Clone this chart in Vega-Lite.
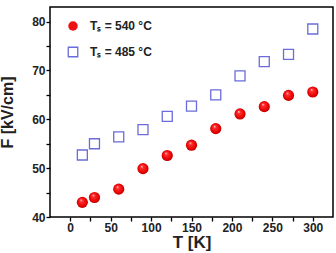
{
  "$schema": "https://vega.github.io/schema/vega-lite/v6.json",
  "width": 283,
  "height": 210,
  "autosize": "none",
  "padding": {"left": 50, "top": 7, "right": 3, "bottom": 36},
  "background": "white",
  "config": {
    "font": "Liberation Sans",
    "view": {"stroke": "black", "strokeWidth": 1.5},
    "axis": {
      "grid": false,
      "domain": false,
      "zindex": 1,
      "ticks": true,
      "tickSize": 4,
      "tickWidth": 1.3,
      "tickColor": "#000000",
      "labelFont": "Liberation Sans",
      "labelFontWeight": "bold",
      "labelFontSize": 12,
      "labelColor": "#222",
      "titleFont": "Liberation Sans",
      "titleFontWeight": "bold",
      "titleColor": "#222"
    }
  },
  "data": {
    "values": [
      {"T": 15, "F": 43.0, "s": "540"},
      {"T": 30, "F": 44.0, "s": "540"},
      {"T": 60, "F": 45.7, "s": "540"},
      {"T": 90, "F": 49.9, "s": "540"},
      {"T": 120, "F": 52.6, "s": "540"},
      {"T": 150, "F": 54.7, "s": "540"},
      {"T": 180, "F": 58.1, "s": "540"},
      {"T": 210, "F": 61.1, "s": "540"},
      {"T": 240, "F": 62.6, "s": "540"},
      {"T": 270, "F": 64.9, "s": "540"},
      {"T": 300, "F": 65.6, "s": "540"},
      {"T": 15, "F": 52.7, "s": "485"},
      {"T": 30, "F": 55.0, "s": "485"},
      {"T": 60, "F": 56.4, "s": "485"},
      {"T": 90, "F": 57.9, "s": "485"},
      {"T": 120, "F": 60.6, "s": "485"},
      {"T": 150, "F": 62.7, "s": "485"},
      {"T": 180, "F": 65.0, "s": "485"},
      {"T": 210, "F": 68.9, "s": "485"},
      {"T": 240, "F": 71.8, "s": "485"},
      {"T": 270, "F": 73.3, "s": "485"},
      {"T": 300, "F": 78.5, "s": "485"}
    ]
  },
  "encoding": {
    "x": {
      "field": "T",
      "type": "quantitative",
      "scale": {"domain": [-25, 325], "nice": false, "zero": false},
      "axis": {
        "title": "T [K]",
        "titleFontSize": 17,
        "titlePadding": 1,
        "values": [0, 25, 50, 75, 100, 125, 150, 175, 200, 225, 250, 275, 300],
        "labelExpr": "datum.value % 50 === 0 ? datum.label : ''",
        "labelPadding": 1
      }
    },
    "y": {
      "field": "F",
      "type": "quantitative",
      "scale": {"domain": [40, 83], "nice": false, "zero": false},
      "axis": {
        "title": "F [kV/cm]",
        "titleFontSize": 16,
        "titlePadding": 16,
        "values": [40, 45, 50, 55, 60, 65, 70, 75, 80],
        "labelExpr": "datum.value % 10 === 0 ? datum.label : ''",
        "labelPadding": 1
      }
    },
    "shape": {
      "field": "s",
      "type": "nominal",
      "scale": {"domain": ["540", "485"], "range": ["circle", "square"]},
      "legend": {
        "title": null,
        "orient": "none",
        "legendX": 17,
        "legendY": 13,
        "labelFont": "Liberation Sans",
        "labelFontWeight": "bold",
        "labelFontSize": 12,
        "labelColor": "#222",
        "rowPadding": 10,
        "labelOffset": 11,
        "symbolSize": 90,
        "symbolStrokeWidth": 1.3,
        "symbolOpacity": 1,
        "labelExpr": "'Tₛ = ' + datum.label + ' °C'"
      }
    }
  },
  "layer": [
    {
      "transform": [{"filter": "datum.s === '485'"}],
      "mark": {"type": "point", "filled": true, "size": 100, "strokeWidth": 1.3, "opacity": 1},
      "encoding": {
        "fill": {
          "field": "s",
          "type": "nominal",
          "scale": {"domain": ["540", "485"], "range": ["#ee1111", "transparent"]},
          "legend": {"title": null}
        },
        "stroke": {
          "field": "s",
          "type": "nominal",
          "scale": {"domain": ["540", "485"], "range": ["transparent", "#6b6bdb"]},
          "legend": {"title": null}
        }
      }
    },
    {
      "transform": [{"filter": "datum.s === '540'"}],
      "mark": {"type": "point", "filled": true, "size": 125, "opacity": 1, "strokeWidth": 0,
        "fill": {"gradient": "radial", "x1": 0.38, "y1": 0.3, "r1": 0, "x2": 0.5, "y2": 0.5, "r2": 0.55,
          "stops": [{"offset": 0, "color": "#fff0f0"}, {"offset": 0.22, "color": "#ff3030"}, {"offset": 0.75, "color": "#e80000"}, {"offset": 1, "color": "#a00000"}]}}
    }
  ]
}
